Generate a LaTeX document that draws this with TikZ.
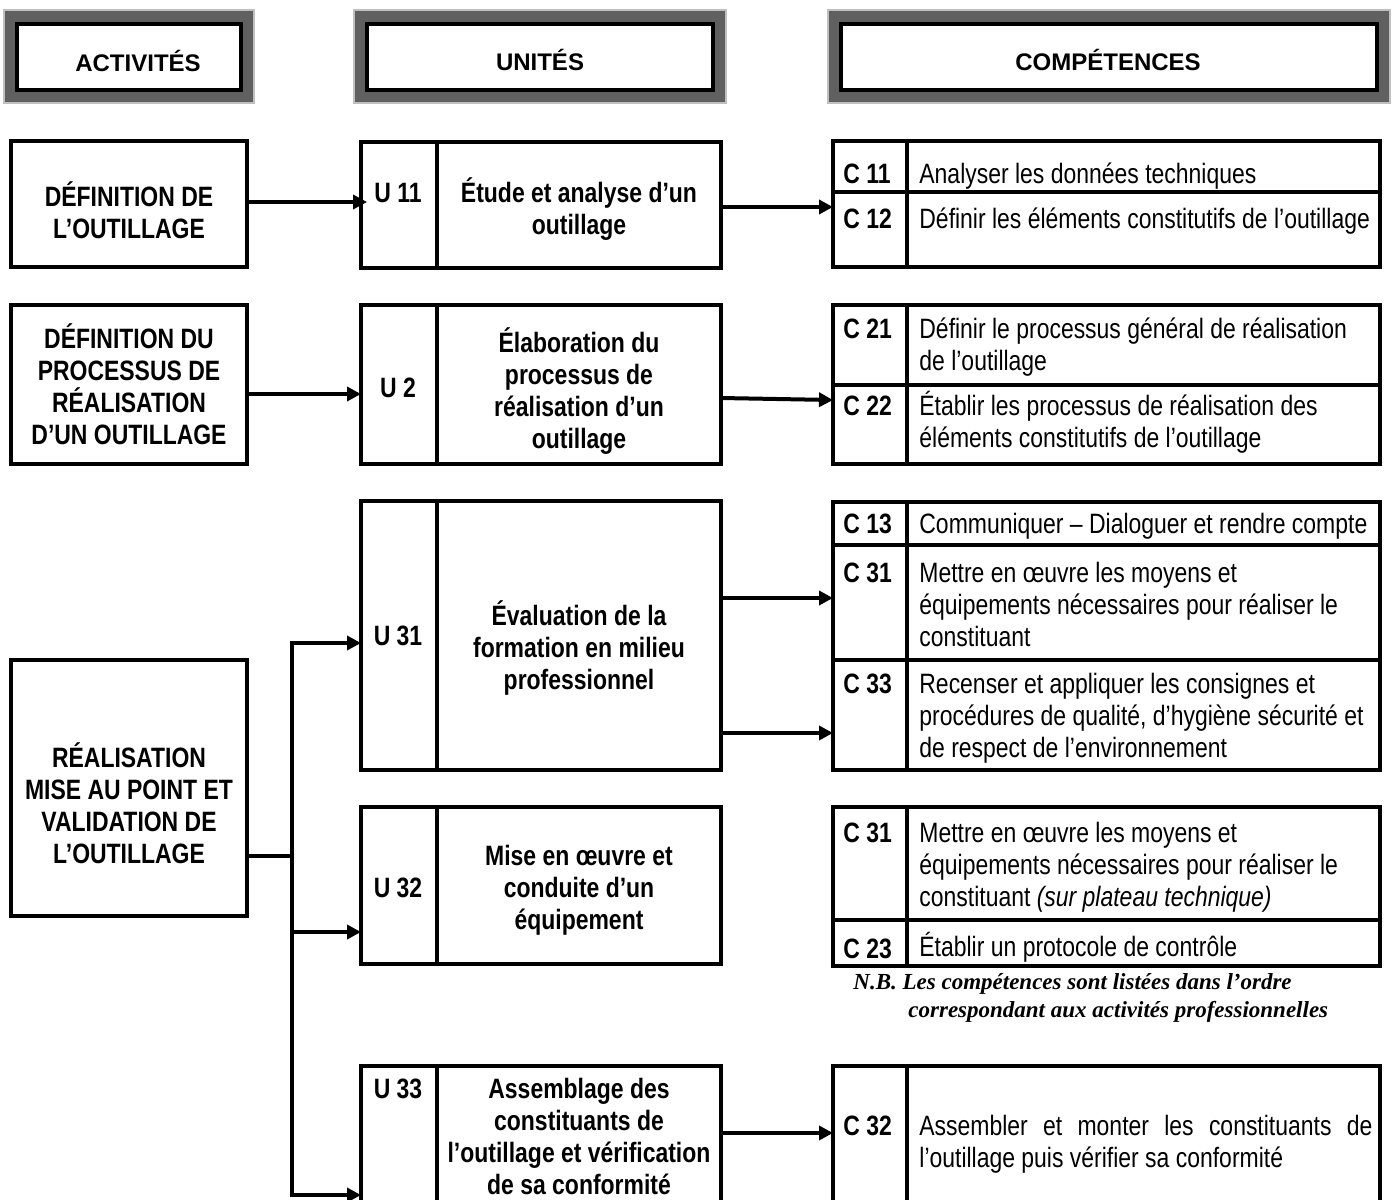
\documentclass[tikz,border=0pt]{standalone}
\usepackage{fontspec}
\setmainfont{Liberation Sans}[FakeStretch=0.82]
\newfontfamily\headfont{Liberation Sans}
\newfontfamily\nbfont{Liberation Serif}
\usetikzlibrary{fit,arrows.meta}
\definecolor{rim}{HTML}{C0C0C0}
\definecolor{band}{HTML}{606060}
\tikzset{
  box/.style={draw=black, line width=2pt, inner sep=0pt, outer sep=0pt},
  headbox/.style={box, fill=white},
  rule/.style={draw=black, line width=2pt},
  wire/.style={draw=black, line width=2pt},
  arr/.style={wire, -{Triangle[length=7pt,width=7pt]}},
  headtxt/.style={anchor=base, inner sep=0pt, font=\headfont\bfseries\fontsize{12}{14}\selectfont},
  acttxt/.style={anchor=base, inner sep=0pt, text width=120pt, align=flush center, font=\bfseries\fontsize{14}{16}\selectfont},
  utxt/.style={anchor=base, inner sep=0pt, text width=150pt, align=flush center, font=\bfseries\fontsize{14}{16}\selectfont},
  ulab/.style={anchor=base, inner sep=0pt, font=\bfseries\fontsize{14}{16}\selectfont},
  clab/.style={anchor=base west, inner sep=0pt, font=\bfseries\fontsize{14}{16}\selectfont},
  ctxt/.style={anchor=base west, inner sep=0pt, text width=235pt, align=flush left, font=\fontsize{14}{16}\selectfont},
  nb/.style={anchor=base west, inner sep=0pt, font=\nbfont\bfseries\itshape\fontsize{11.5}{14}\selectfont},
}

\begin{document}
\begin{tikzpicture}[x=0.5pt,y=-0.5pt]
  \useasboundingbox (0,0) rectangle (1393,1200);
  \clip (0,0) rectangle (1393,1200);
  \coordinate (udiv) at (437,0);
  \coordinate (cdiv) at (907,0);
  % en-tetes
  \foreach \a/\b/\n in {3/255/act,353/727/unit,827/1391/comp}{
    \fill[rim] (\a,9) rectangle (\b,104);
    \fill[band] (\a+2,11) rectangle (\b-2,102);
    \node[headbox, fit={(\a+14,24) (\b-14,90)}] (h\n) {};
  }
  \node[headtxt] (hactt) at (138,71) {ACTIVITÉS};
  \node[headtxt] (hunitt) at (540,70) {UNITÉS};
  \node[headtxt] (hcompt) at (1108,70) {COMPÉTENCES};

  % activites
  \node[box, fit={(11,141) (247,267)}] (act1) {};
  \node[box, fit={(11,305) (247,464)}] (act2) {};
  \node[box, fit={(11,660) (247,916)}] (act3) {};
  \node[acttxt] (act1t) at (129,206) {DÉFINITION DE\\L’OUTILLAGE};
  \node[acttxt] (act2t) at (129,348) {DÉFINITION DU\\PROCESSUS DE\\RÉALISATION\\D’UN OUTILLAGE};
  \node[acttxt] (act3t) at (129,767) {RÉALISATION\\MISE AU POINT ET\\VALIDATION DE\\L’OUTILLAGE};

  % unites
  \node[box, fit={(361,142) (721,268)}] (u11) {};
  \node[box, fit={(361,305) (721,464)}] (u2) {};
  \node[box, fit={(361,501) (721,770)}] (u31) {};
  \node[box, fit={(361,807) (721,964)}] (u32) {};
  \node[box, fit={(361,1066) (721,1215)}] (u33) {};
  \foreach \n in {u11,u2,u31,u32,u33}
    \draw[rule] (\n.north -| udiv) -- (\n.south -| udiv);
  \node[ulab] (u11l) at (398,202) {U 11};
  \node[ulab] (u2l) at (398,397) {U 2};
  \node[ulab] (u31l) at (398,645) {U 31};
  \node[ulab] (u32l) at (398,897) {U 32};
  \node[ulab] (u33l) at (398,1098) {U 33};
  \node[utxt] (u11t) at (579,202) {Étude et analyse d’un\\outillage};
  \node[utxt] (u2t) at (579,352) {Élaboration du\\processus de\\réalisation d’un\\outillage};
  \node[utxt] (u31t) at (579,625) {Évaluation de la\\formation en milieu\\professionnel};
  \node[utxt] (u32t) at (579,865) {Mise en œuvre et\\conduite d’un\\équipement};
  \node[utxt] (u33t) at (579,1098) {Assemblage des\\constituants de\\l’outillage et vérification\\de sa conformité};

  % competences
  \node[box, fit={(833,141) (1380,267)}] (c1) {};
  \node[box, fit={(833,305) (1380,464)}] (c2) {};
  \node[box, fit={(833,502) (1380,770)}] (c3) {};
  \node[box, fit={(833,807) (1380,966)}] (c4) {};
  \node[box, fit={(833,1066) (1380,1215)}] (c5) {};
  \foreach \n in {c1,c2,c3,c4,c5}
    \draw[rule] (\n.north -| cdiv) -- (\n.south -| cdiv);
  \foreach \n/\y in {c1/192,c2/385,c3/545,c3/660,c4/920}
    \draw[rule] (\n.west |- 0,\y) -- (\n.east |- 0,\y);
  \node[clab] (c11l) at (843,183) {C 11};
  \node[ctxt] (c11t) at (919,183) {Analyser les données techniques};
  \node[clab] (c12l) at (843,228) {C 12};
  \node[ctxt] (c12t) at (919,228) {Définir les éléments constitutifs de l’outillage};
  \node[clab] (c21l) at (843,338) {C 21};
  \node[ctxt] (c21t) at (919,338) {Définir le processus général de réalisation\\de l’outillage};
  \node[clab] (c22l) at (843,415) {C 22};
  \node[ctxt] (c22t) at (919,415) {Établir les processus de réalisation des\\éléments constitutifs de l’outillage};
  \node[clab] (c13l) at (843,533) {C 13};
  \node[ctxt] (c13t) at (919,533) {Communiquer – Dialoguer et rendre compte};
  \node[clab] (c31l) at (843,582) {C 31};
  \node[ctxt] (c31t) at (919,582) {Mettre en œuvre les moyens et\\équipements nécessaires pour réaliser le\\constituant};
  \node[clab] (c33l) at (843,693) {C 33};
  \node[ctxt] (c33t) at (919,693) {Recenser et appliquer les consignes et\\procédures de qualité, d’hygiène sécurité et\\de respect de l’environnement};
  \node[clab] (c31bl) at (843,842) {C 31};
  \node[ctxt] (c31bt) at (919,842) {Mettre en œuvre les moyens et\\équipements nécessaires pour réaliser le\\constituant \textit{(sur plateau technique)}};
  \node[clab] (c23l) at (843,958) {C 23};
  \node[ctxt] (c23t) at (919,956) {Établir un protocole de contrôle};
  \node[clab] (c32l) at (843,1135) {C 32};
  \node[ctxt, text width=226.5pt, align=justify] (c32t) at (919,1135) {Assembler et monter les constituants de\linebreak l’outillage puis vérifier sa conformité};
  \node[nb] (nb1) at (853,989) {N.B. Les compétences sont listées dans l’ordre};
  \node[nb] (nb2) at (908,1017) {correspondant aux activités professionnelles};

  % fleches
  \draw[arr, shorten >=-3pt] (act1.east |- 0,202) -- (u11.west |- 0,202);
  \draw[arr] (u11.east |- 0,207) -- (c1.west |- 0,207);
  \draw[arr] (act2.east |- 0,394) -- (u2.west |- 0,394);
  \draw[arr] (u2.east |- 0,398) -- (c2.west |- 0,400);
  \draw[arr] (u31.east |- 0,598) -- (c3.west |- 0,598);
  \draw[arr] (u31.east |- 0,733) -- (c3.west |- 0,733);
  \draw[arr] (u33.east |- 0,1133) -- (c5.west |- 0,1133);
  \coordinate (jn) at (292,856);
  \coordinate (jtop) at (292,643);
  \coordinate (jmid) at (292,932);
  \coordinate (jbot) at (292,1195);
  \draw[wire] (act3.east |- jn) -- (jn);
  \draw[wire, line width=2.4pt, line cap=rect] (jtop) -- (jbot);
  \draw[arr] (jtop) -- (jtop -| u31.west);
  \draw[arr] (jmid) -- (jmid -| u32.west);
  \draw[arr] (jbot) -- (jbot -| u33.west);
\end{tikzpicture}
\end{document}
